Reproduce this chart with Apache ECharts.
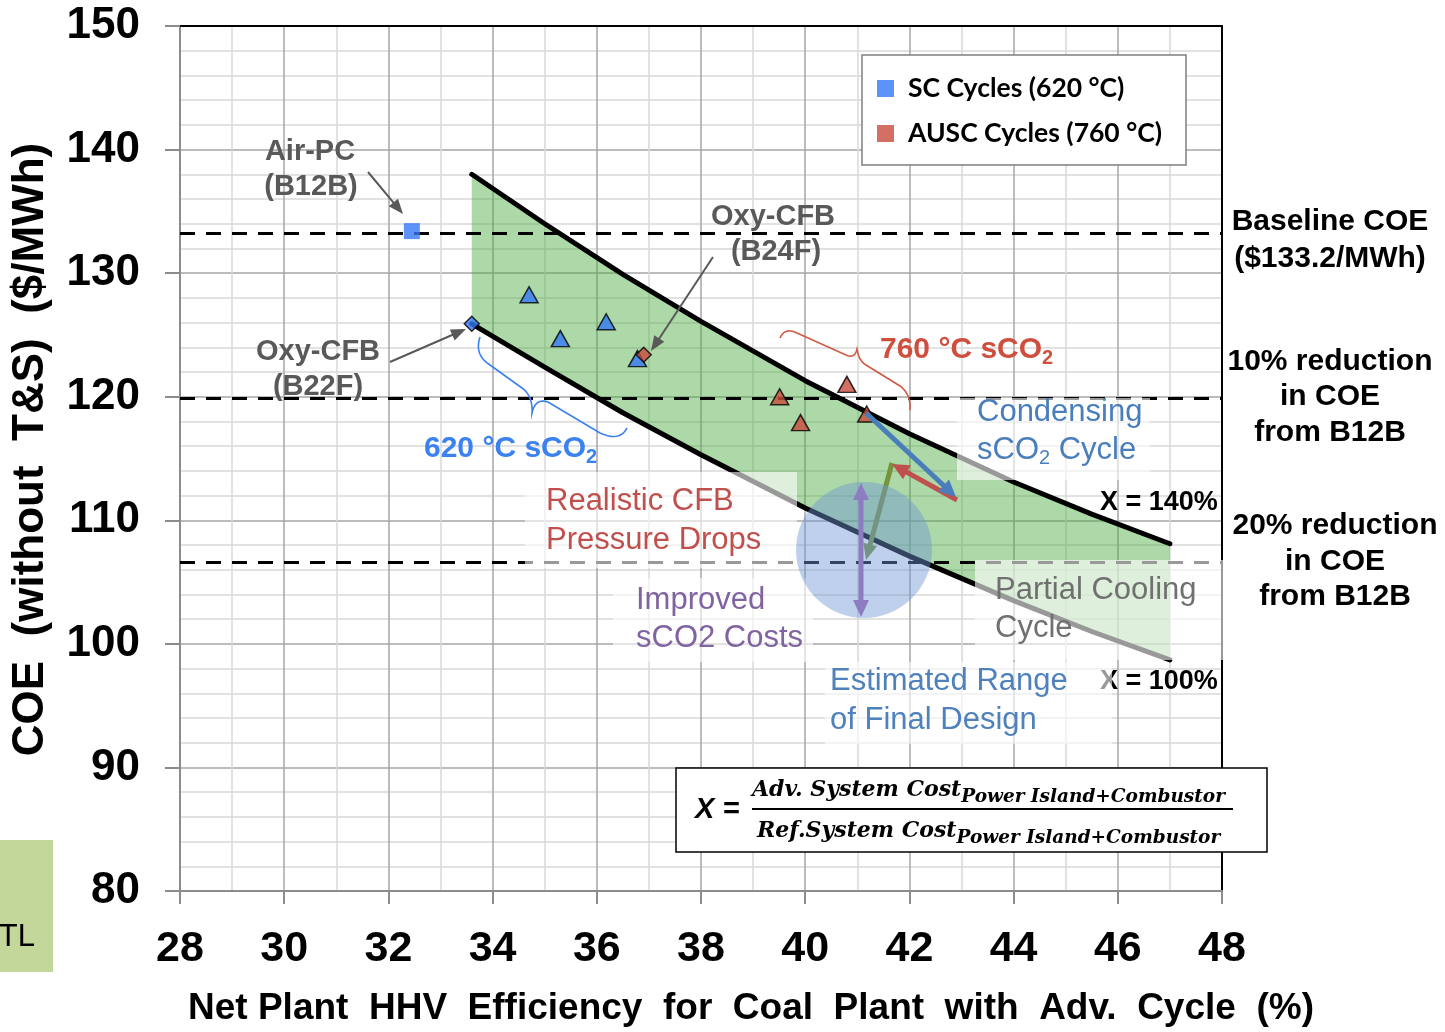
<!DOCTYPE html>
<html><head><meta charset="utf-8">
<script src="https://cdn.jsdelivr.net/npm/echarts@6/dist/echarts.min.js"></script>
<style>html,body{margin:0;padding:0;background:#fff}#c{width:1445px;height:1032px}</style>
</head><body><div id="c"></div>
<script>
// ---------------- data ----------------
const scName = 'SC Cycles (620 °C)';
const auscName = 'AUSC Cycles (760 °C)';
const scX = [32.45, 33.6, 34.7, 35.3, 36.18, 36.78];
const scY = [133.4, 125.9, 128.25, 124.7, 126.07, 123.08];
const scSymbols = ['rect', 'diamond', 'triangle', 'triangle', 'triangle', 'triangle'];
const auscX = [39.51, 39.91, 40.8, 41.18, 36.9];
const auscY = [120.0, 117.9, 121.0, 118.6, 123.4];
const auscSymbols = ['triangle', 'triangle', 'triangle', 'triangle', 'diamond'];
// X = 140% curve
const upperX = [33.6, 35.0, 36.5, 38.0, 40.0, 42.0, 44.0, 45.5, 47.0];
const upperY = [138.0, 134.0, 129.9, 126.1, 121.3, 117.0, 113.1, 110.5, 108.1];
// X = 100% curve
const lowerX = [33.6, 35.0, 36.5, 38.0, 40.0, 42.0, 44.0, 45.5, 47.0];
const lowerY = [125.9, 122.4, 118.7, 115.3, 111.0, 107.1, 103.5, 101.0, 98.7];
// baseline COE, 10% and 20% reduction
const refLevels = [133.2, 119.9, 106.6];
const xTickInterval = 2;
const yTickInterval = 10;

// ---------------- styles ----------------
const F = '"Liberation Sans", Arial, sans-serif';
const BLUE = '#3478f6', RED = '#c84b3c';
const symSize = { rect: [16, 16], diamond: [15, 15], triangle: [18, 16] };

function pts(xs, ys, syms) {
  return xs.map((x, i) => ({
    value: [x, ys[i]],
    symbol: syms[i],
    symbolSize: symSize[syms[i]],
    itemStyle: { borderColor: syms[i] === 'rect' ? 'rgba(0,0,0,0)' : '#000', borderWidth: syms[i] === 'rect' ? 0 : 1.5 }
  }));
}

const chart = echarts.init(document.getElementById('c'));

// ---------- graphic helpers (pixel layout of annotations) ----------
function txt(x, y, text, font, fill, align, z) {
  return { type: 'text', z: z || 20, silent: true,
    style: { x: x, y: y, text: text, font: font, fill: fill, align: align || 'left', verticalAlign: 'middle' } };
}
function richTxt(x, y, text, rich, fill, align, z) {
  return { type: 'text', z: z || 20, silent: true,
    style: { x: x, y: y, text: text, rich: rich, fill: fill, align: align || 'left', verticalAlign: 'middle' } };
}
function arrow(x1, y1, x2, y2, color, w, hl, hw, z, both) {
  const dx = x2 - x1, dy = y2 - y1, L = Math.hypot(dx, dy), ux = dx / L, uy = dy / L, px = -uy, py = ux;
  const els = [];
  const sx = both ? x1 + ux * hl * 0.8 : x1, sy = both ? y1 + uy * hl * 0.8 : y1;
  const ex = x2 - ux * hl * 0.8, ey = y2 - uy * hl * 0.8;
  els.push({ type: 'line', z: z, silent: true, shape: { x1: sx, y1: sy, x2: ex, y2: ey }, style: { stroke: color, lineWidth: w } });
  els.push({ type: 'polygon', z: z, silent: true, shape: { points: [[x2, y2], [x2 - ux * hl + px * hw / 2, y2 - uy * hl + py * hw / 2], [x2 - ux * hl - px * hw / 2, y2 - uy * hl - py * hw / 2]] }, style: { fill: color } });
  if (both) {
    els.push({ type: 'polygon', z: z, silent: true, shape: { points: [[x1, y1], [x1 + ux * hl + px * hw / 2, y1 + uy * hl + py * hw / 2], [x1 + ux * hl - px * hw / 2, y1 + uy * hl - py * hw / 2]] }, style: { fill: color } });
  }
  return els;
}
function bracePts(start, segs) {
  const out = [start.slice()];
  let cur = start.slice();
  segs.forEach(s => {
    if (s[0] === 'L') { cur = [s[1], s[2]]; out.push(cur); }
    else {
      const c = [s[1], s[2]], e = [s[3], s[4]];
      for (let t = 0.1; t <= 1.0001; t += 0.1) {
        const a = (1 - t) * (1 - t), b = 2 * (1 - t) * t, d = t * t;
        out.push([a * cur[0] + b * c[0] + d * e[0], a * cur[1] + b * c[1] + d * e[1]]);
      }
      cur = e;
    }
  });
  return out;
}
function brace(start, segs, color) {
  return { type: 'polyline', z: 12, silent: true, shape: { points: bracePts(start, segs) }, style: { stroke: color, lineWidth: 1.6, fill: null } };
}
const WBOX = 'rgba(255,255,255,0.6)';
function box(x, y, w, h, z) {
  return { type: 'rect', z: z || 10, silent: true, shape: { x: x, y: y, width: w, height: h }, style: { fill: WBOX } };
}

const subRich = (size, color, weight, pad) => ({
  m: { fontFamily: 'Liberation Sans', fontSize: size, fontWeight: weight, fill: color, lineHeight: size + 4 },
  s: { fontFamily: 'Liberation Sans', fontSize: Math.round(size * 0.65), fontWeight: weight, fill: color, lineHeight: Math.round(size * 0.65) + 2, padding: [pad, 0, 0, 0] }
});
const fracRich = {
  m: { fontFamily: 'DejaVu Serif', fontStyle: 'italic', fontWeight: 'bold', fontSize: 22, lineHeight: 26, fill: '#000' },
  s: { fontFamily: 'DejaVu Serif', fontStyle: 'italic', fontWeight: 'bold', fontSize: 18.5, lineHeight: 22, padding: [14, 0, 0, 0], fill: '#000' }
};

const GRAY = '#595959';
const bold29 = 'bold 29px "Liberation Sans"';
const reg31 = '31px "Liberation Sans"';
const bold30 = 'bold 30px "Liberation Sans"';

let graphics = [
  // translucent white label boxes
  box(525, 472, 272, 96),
  box(613, 578, 200, 84),
  box(957, 398, 193, 82),
  box(975, 560, 250, 100),
  box(825, 662, 287, 82),
  // estimated-range circle
  { type: 'circle', z: 11, silent: true, shape: { cx: 864, cy: 550, r: 68 }, style: { fill: 'rgba(110,150,210,0.45)' } },
  // bottom-left remnant
  { type: 'rect', z: 10, silent: true, shape: { x: 0, y: 840, width: 53, height: 132 }, style: { fill: '#c4d79b' } },
  txt(35, 937, 'TL', '31px "Liberation Sans"', '#000', 'right'),
  // formula box
  { type: 'rect', z: 15, silent: true, shape: { x: 676, y: 768, width: 591, height: 84 }, style: { fill: '#fff', stroke: '#000', lineWidth: 1.5 } },
  txt(695, 810, 'X =', 'italic bold 29px "Liberation Sans"', '#000', 'left', 16),
  richTxt(752, 790, '{m|Adv. System Cost}{s|Power Island+Combustor}', fracRich, '#000', 'left', 16),
  { type: 'line', z: 16, silent: true, shape: { x1: 752, y1: 809, x2: 1233, y2: 809 }, style: { stroke: '#000', lineWidth: 2 } },
  richTxt(757, 831, '{m|Ref.System Cost}{s|Power Island+Combustor}', fracRich, '#000', 'left', 16),
  // point labels
  txt(310, 152, 'Air-PC', bold29, GRAY, 'center'),
  txt(311, 187, '(B12B)', bold29, GRAY, 'center'),
  txt(773, 217, 'Oxy-CFB', bold29, GRAY, 'center'),
  txt(776, 252, '(B24F)', bold29, GRAY, 'center'),
  txt(318, 352, 'Oxy-CFB', bold29, GRAY, 'center'),
  txt(318, 387, '(B22F)', bold29, GRAY, 'center'),
  richTxt(880, 350, '{m|760 °C sCO}{s|2}', subRich(30, '#cf4f3f', 'bold', 16), '#cf4f3f'),
  richTxt(424, 449, '{m|620 °C sCO}{s|2}', subRich(30, '#3b82f0', 'bold', 16), '#3b82f0'),
  txt(977, 412, 'Condensing', reg31, '#4a7ebb'),
  richTxt(977, 450, '{m|sCO}{s|2}{m| Cycle}', subRich(31, '#4a7ebb', 'normal', 16), '#4a7ebb'),
  txt(546, 501, 'Realistic CFB', reg31, '#c0504d'),
  txt(546, 540, 'Pressure Drops', reg31, '#c0504d'),
  txt(636, 600, 'Improved', reg31, '#8064a2'),
  txt(636, 638, 'sCO2 Costs', reg31, '#8064a2'),
  txt(995, 590, 'Partial Cooling', reg31, '#707070'),
  txt(995, 628, 'Cycle', reg31, '#707070'),
  txt(830, 681, 'Estimated Range', reg31, '#4f81bd'),
  txt(830, 720, 'of Final Design', reg31, '#4f81bd'),
  txt(1100, 503, 'X = 140%', 'bold 27px "Liberation Sans"', '#000'),
  txt(1100, 682, 'X = 100%', 'bold 27px "Liberation Sans"', '#000', 'left', 9),
  // right-side annotations
  txt(1330, 222, 'Baseline COE', bold30, '#000', 'center'),
  txt(1330, 259, '($133.2/MWh)', bold30, '#000', 'center'),
  txt(1330, 362, '10% reduction', bold30, '#000', 'center'),
  txt(1330, 397, 'in COE', bold30, '#000', 'center'),
  txt(1330, 433, 'from B12B', bold30, '#000', 'center'),
  txt(1335, 526, '20% reduction', bold30, '#000', 'center'),
  txt(1335, 562, 'in COE', bold30, '#000', 'center'),
  txt(1335, 597, 'from B12B', bold30, '#000', 'center'),
  // braces
  brace([780, 338], [['Q', 785, 327, 797, 333], ['L', 846, 355], ['Q', 855, 359, 857, 349], ['Q', 859, 361, 866, 365], ['L', 900, 386], ['Q', 911, 394, 910, 410]], '#d05a45'),
  brace([480, 337], [['Q', 474, 355, 490, 365], ['L', 522, 388], ['Q', 533, 396, 532, 413], ['Q', 535, 398, 548, 402], ['L', 600, 433], ['Q', 620, 442, 627, 428]], '#3b82f0')
];
graphics = graphics
  .concat(arrow(368, 172, 403, 214, GRAY, 2, 15, 12, 12))
  .concat(arrow(713, 257, 651, 351, GRAY, 2, 15, 12, 12))
  .concat(arrow(390, 362, 466, 329, GRAY, 2, 15, 12, 12))
  .concat(arrow(892, 463, 866, 560, '#77933c', 5, 16, 14, 10.5))
  .concat(arrow(861, 483, 861, 617, '#8e7cc3', 5, 17, 16, 12, true))
  .concat(arrow(957, 500, 892, 464, '#c0504d', 5, 17, 16, 12))
  .concat(arrow(866, 413, 956, 497, '#4a7ebb', 5, 17, 16, 12));

const option = {
  animation: false,
  backgroundColor: '#fff',
  grid: { left: 180, top: 26, width: 1042, height: 866, containLabel: false },
  legend: {
    orient: 'vertical', left: 862, top: 55,
    padding: [20, 24, 18, 15], itemGap: 18, itemWidth: 17, itemHeight: 17,
    backgroundColor: '#fff', borderColor: '#7f7f7f', borderWidth: 1.5, borderRadius: 0,
    itemStyle: { borderWidth: 0 },
    textStyle: { fontFamily: 'Lato', fontWeight: 'bold', fontSize: 26.5, color: '#000', padding: [0, 0, 0, 9] },
    data: [{ name: scName, icon: 'rect' }, { name: auscName, icon: 'rect' }]
  },
  xAxis: [{
    type: 'value', min: 28, max: 48, interval: xTickInterval,
    name: 'Net Plant  HHV  Efficiency  for  Coal  Plant  with  Adv.  Cycle  (%)',
    nameLocation: 'middle', nameGap: 99,
    nameTextStyle: { fontFamily: F, fontWeight: 'bold', fontSize: 37, color: '#000', padding: [0, 0, 0, 100] },
    axisLine: { show: true, onZero: false, lineStyle: { color: '#8c8c8c', width: 2 } },
    axisTick: { show: true, length: 13, lineStyle: { color: '#8c8c8c', width: 2 } },
    axisLabel: { fontFamily: F, fontWeight: 'bold', fontSize: 43, color: '#000', margin: 37 },
    splitLine: { show: true, lineStyle: { color: '#a6a6a6', width: 1.5 } },
    minorTick: { show: false, splitNumber: 2 },
    minorSplitLine: { show: true, lineStyle: { color: '#d9d9d9', width: 1.5 } }
  }, {
    type: 'value', position: 'top', min: 28, max: 48, interval: xTickInterval,
    axisLine: { show: true, onZero: false, lineStyle: { color: '#000', width: 2 } },
    axisTick: { show: false }, axisLabel: { show: false }, splitLine: { show: false }
  }],
  yAxis: [{
    type: 'value', min: 80, max: 150, interval: yTickInterval,
    name: 'COE  (without  T&S)  ($/MWh)',
    nameLocation: 'middle', nameGap: 127,
    nameTextStyle: { fontFamily: F, fontWeight: 'bold', fontSize: 44, color: '#000', padding: [0, 0, 0, 18] },
    axisLine: { show: true, onZero: false, lineStyle: { color: '#8c8c8c', width: 2 } },
    axisTick: { show: true, length: 15, lineStyle: { color: '#8c8c8c', width: 2 } },
    axisLabel: { fontFamily: F, fontWeight: 'bold', fontSize: 44, color: '#000', margin: 40 },
    splitLine: { show: true, lineStyle: { color: '#a6a6a6', width: 1.5 } },
    minorTick: { show: false, splitNumber: 5 },
    minorSplitLine: { show: true, lineStyle: { color: '#d9d9d9', width: 1.5 } }
  }, {
    type: 'value', position: 'right', min: 80, max: 150, interval: yTickInterval,
    axisLine: { show: true, onZero: false, lineStyle: { color: '#000', width: 2 } },
    axisTick: { show: false }, axisLabel: { show: false }, splitLine: { show: false }
  }],
  series: [
    {
      type: 'custom', silent: true, z: 1, xAxisIndex: 0, yAxisIndex: 0,
      data: [[40, 110]],
      renderItem: function (params, api) {
        const up = upperX.map((x, i) => api.coord([x, upperY[i]]));
        const lo = lowerX.map((x, i) => api.coord([x, lowerY[i]])).reverse();
        return { type: 'polygon', shape: { points: up.concat(lo) }, style: { fill: 'rgba(70,170,60,0.45)' } };
      }
    },
    {
      name: 'X = 100%', type: 'line', z: 3, symbol: 'none', silent: true,
      data: lowerX.map((x, i) => [x, lowerY[i]]),
      lineStyle: { color: '#000', width: 5, cap: 'round', join: 'round' },
      markLine: {
        silent: true, symbol: 'none', label: { show: false },
        lineStyle: { color: '#000', width: 3, type: [15, 11] },
        data: refLevels.map(v => ({ yAxis: v }))
      }
    },
    {
      name: 'X = 140%', type: 'line', z: 3, symbol: 'none', silent: true,
      data: upperX.map((x, i) => [x, upperY[i]]),
      lineStyle: { color: '#000', width: 5, cap: 'round', join: 'round' }
    },
    {
      name: scName, type: 'scatter', z: 5,
      itemStyle: { color: BLUE },
      data: pts(scX, scY, scSymbols)
    },
    {
      name: auscName, type: 'scatter', z: 6,
      itemStyle: { color: RED },
      data: pts(auscX, auscY, auscSymbols)
    }
  ],
  graphic: { elements: graphics }
};
chart.setOption(option);
</script></body></html>
